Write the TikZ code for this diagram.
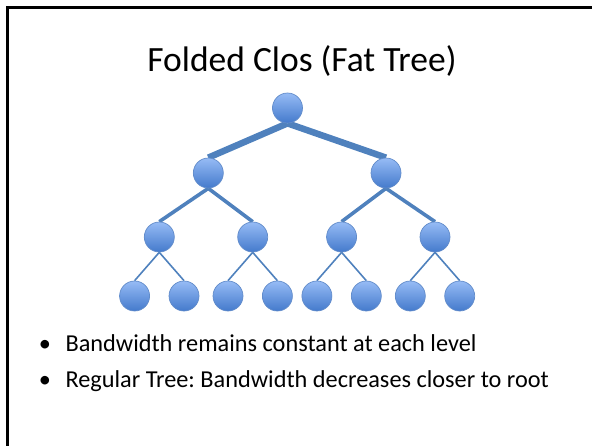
\documentclass[tikz,border=0pt]{standalone}
\usepackage{fontspec}
\setmainfont{Carlito}
\usetikzlibrary{backgrounds}
\frenchspacing

\definecolor{linkblue}{RGB}{79,129,189}
\definecolor{nodetop}{RGB}{150,187,245}
\definecolor{nodebot}{RGB}{68,122,204}
\definecolor{nodeline}{RGB}{98,140,202}

\tikzset{
  switch/.style={circle, minimum size=30pt, inner sep=0pt,
    top color=nodetop, bottom color=nodebot, draw=nodeline, line width=0.7pt},
  link/.style={draw=linkblue},
  bigtext/.style={font=\fontsize{35.5}{42}\selectfont},
  bodytext/.style={font=\fontsize{24.3}{29}\selectfont},
}

\begin{document}
\begin{tikzpicture}[x=1pt,y=1pt]
			%%%%% FRAME %%%%%
			\useasboundingbox (0,0) rectangle (592,-445);
			\clip (0,0) rectangle (592,-445);
			\draw[line width=2.6pt] (7.3,-7.3) rectangle (620,-470);
			
			\node[bigtext, anchor=base] (title) at (302,-71.7) {Folded Clos (Fat Tree)};
			
			%%%%% SWITCHES %%%%%
			\node[switch] (root) at (287.5,-108) {};
			\foreach \x [count=\i] in {208.3,386.0}
				\node[switch] (agg\i) at (\x,-173) {};
			\foreach \x [count=\i] in {159.3,252.7,341.6,435.0}
				\node[switch] (edge\i) at (\x,-237) {};
			\foreach \x [count=\i] in {134.6,184.0,228.0,277.4,316.9,366.3,410.3,459.7}
				\node[switch] (host\i) at (\x,-296) {};
			
			%%%%% LINKS %%%%%
			\begin{scope}[on background layer]
				\foreach \i in {1,2}
					\draw[link, line width=6.5pt] (root.south) -- (agg\i.north);
				\foreach \i/\p in {1/1,2/1,3/2,4/2}
					\draw[link, line width=3.6pt] (agg\p.south) -- (edge\i.north);
				\foreach \i/\p in {1/1,2/1,3/2,4/2,5/3,6/3,7/4,8/4}
					\draw[link, line width=1.6pt] (edge\p.south) -- (host\i.north);
			\end{scope}
			
			%%%%% BULLETS %%%%%
			\node[bodytext, anchor=base] (dot1) at (45,-351) {\textbullet};
			\node[bodytext, anchor=base west] (item1) at (62,-351) {Bandwidth remains constant at each level};
			\node[bodytext, anchor=base] (dot2) at (45,-387.5) {\textbullet};
			\node[bodytext, anchor=base west] (item2) at (62,-387.5) {Regular Tree: Bandwidth decreases closer to root};
\end{tikzpicture}
\end{document}
